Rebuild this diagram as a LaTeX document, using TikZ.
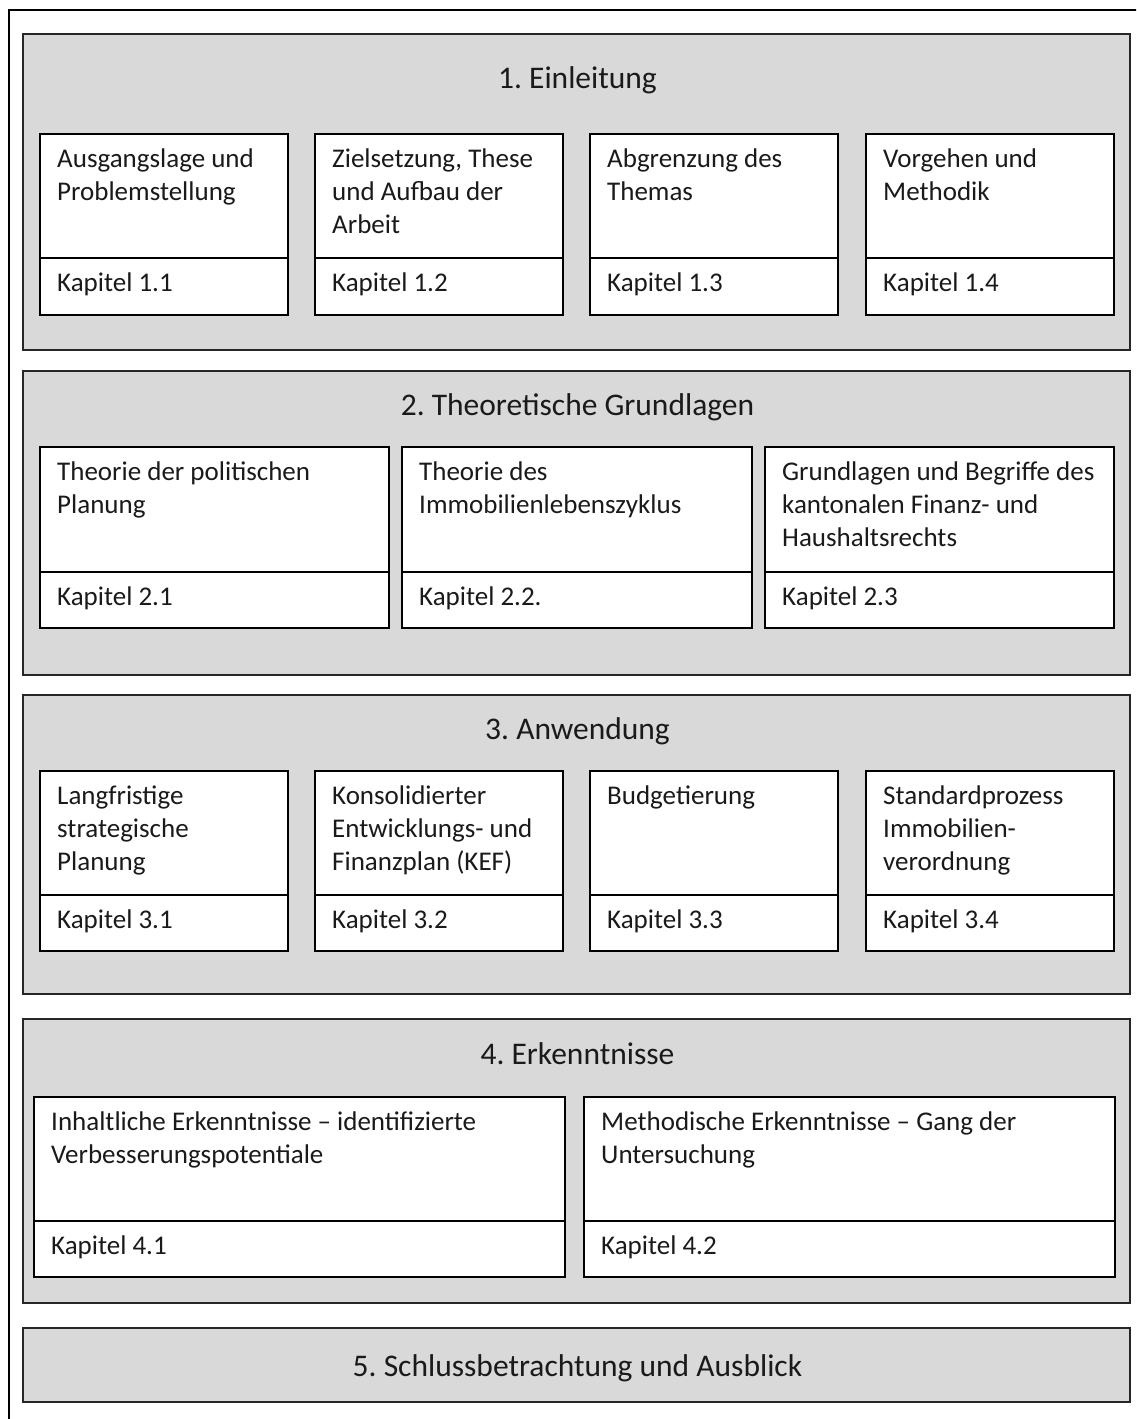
\documentclass[tikz,border=0pt]{standalone}
\usepackage{fontspec}
\setmainfont{Carlito}
\frenchspacing
\usetikzlibrary{calc}
\definecolor{panelfill}{HTML}{D9D9D9}
\definecolor{paneldraw}{HTML}{262626}
\definecolor{txtcol}{HTML}{1A1A1A}
\tikzset{
  panel/.style={draw=paneldraw, fill=panelfill, line width=2pt, inner sep=0pt, outer sep=0pt, anchor=north west},
  boxpart/.style={draw=black, fill=white, line width=1.8pt, inner sep=0pt, outer sep=0pt, anchor=north west},
  boxtext/.style={text=txtcol, font=\fontsize{27}{33}\selectfont\frenchspacing, inner sep=0pt, anchor=base west},
  titletext/.style={text=txtcol, font=\fontsize{31.5}{38}\selectfont\frenchspacing, inner sep=0pt, anchor=base},
  outerframe/.style={draw=black, line width=2pt}
}
% name, x1, x2, ytop, ydiv, ybot, text, kapitel
\newcommand\kbox[8]{%
  \node[boxpart, minimum width={(#3-#2)*1pt}, minimum height={(#5-#4)*1pt}] (#1t) at (#2,#4) {};
  \node[boxpart, minimum width={(#3-#2)*1pt}, minimum height={(#6-#5)*1pt}] (#1b) at (#2,#5) {};
  \node[boxtext] (#1x) at ($(#1t.north west)+(17,33)$) {\parbox[t]{\dimexpr #3pt - #2pt - 18pt\relax}{\raggedright #7}};
  \node[boxtext] (#1k) at ($(#1b.north west)+(17,33)$) {#8};
}
\begin{document}
\begin{tikzpicture}[x=1pt, y=-1pt]
\useasboundingbox (0,0) rectangle (1136,1419);
\clip (0,0) rectangle (1136,1419);
\fill[white] (0,0) rectangle (1136,1419);
\draw[outerframe] (9,10) rectangle (1160,1440);

% Panels
\node[panel, minimum width=1107pt, minimum height=316pt] (p1) at (23,34) {};
\node[panel, minimum width=1107pt, minimum height=304pt] (p2) at (23,371) {};
\node[panel, minimum width=1107pt, minimum height=299pt] (p3) at (23,695) {};
\node[panel, minimum width=1107pt, minimum height=284pt] (p4) at (23,1019) {};
\node[panel, minimum width=1107pt, minimum height=74pt] (p5) at (23,1328) {};

\node[titletext] (p1h) at ($(p1.north)+(1,54)$) {1. Einleitung};
\node[titletext] (p2h) at ($(p2.north)+(1,44)$) {2. Theoretische Grundlagen};
\node[titletext] (p3h) at ($(p3.north)+(1,44)$) {3. Anwendung};
\node[titletext] (p4h) at ($(p4.north)+(1,45)$) {4. Erkenntnisse};
\node[titletext] (p5h) at ($(p5.north)+(1,48)$) {5. Schlussbetrachtung und Ausblick};

% Row 1
\kbox{a1}{40}{288}{134}{258}{315}{Ausgangslage und\\Problemstellung}{Kapitel 1.1}
\kbox{a2}{315}{563}{134}{258}{315}{Zielsetzung, These\\und Aufbau der\\Arbeit}{Kapitel 1.2}
\kbox{a3}{590}{838}{134}{258}{315}{Abgrenzung des\\Themas}{Kapitel 1.3}
\kbox{a4}{866}{1114}{134}{258}{315}{Vorgehen und\\Methodik}{Kapitel 1.4}

% Row 2
\kbox{b1}{40}{389}{447}{572}{628}{Theorie der politischen\\Planung}{Kapitel 2.1}
\kbox{b2}{402}{752}{447}{572}{628}{Theorie des\\Immobilienlebenszyklus}{Kapitel 2.2.}
\kbox{b3}{765}{1114}{447}{572}{628}{Grundlagen und Begriffe des\\kantonalen Finanz- und\\Haushaltsrechts}{Kapitel 2.3}

% Row 3
\kbox{c1}{40}{288}{771}{895}{951}{Langfristige\\strategische\\Planung}{Kapitel 3.1}
\kbox{c2}{315}{563}{771}{895}{951}{Konsolidierter\\Entwicklungs- und\\Finanzplan (KEF)}{Kapitel 3.2}
\kbox{c3}{590}{838}{771}{895}{951}{Budgetierung}{Kapitel 3.3}
\kbox{c4}{866}{1114}{771}{895}{951}{Standardprozess\\Immobilien-\\verordnung}{Kapitel 3.4}

% Row 4
\kbox{d1}{34}{565}{1097}{1221}{1277}{Inhaltliche Erkenntnisse – identifizierte\\Verbesserungspotentiale}{Kapitel 4.1}
\kbox{d2}{584}{1115}{1097}{1221}{1277}{Methodische Erkenntnisse – Gang der\\Untersuchung}{Kapitel 4.2}
\end{tikzpicture}
\end{document}
